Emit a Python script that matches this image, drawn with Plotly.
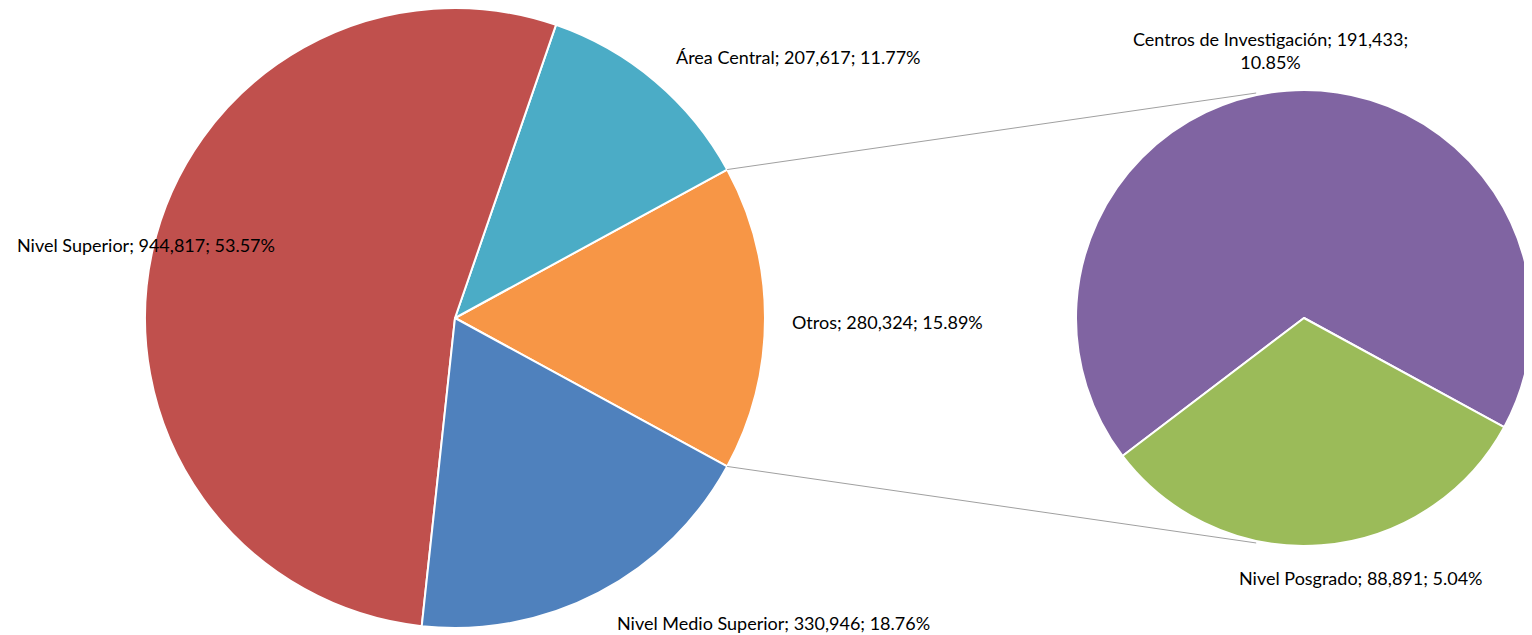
import math
import plotly.graph_objects as go

# main pie (Otros is broken out into the second pie)
main_labels = ["Otros", "Área Central", "Nivel Superior", "Nivel Medio Superior"]
main_values = [280324, 207617, 944817, 330946]
main_colors = ["#F79646", "#4BACC6", "#C0504D", "#4F81BD"]

# second pie: detail of "Otros"
sub_labels = ["Centros de Investigación", "Nivel Posgrado"]
sub_values = [191433, 88891]
sub_colors = ["#8064A2", "#9BBB59"]

W, H = 1532, 635
OFF = 8  # page body margin
FW, FH = W - OFF, H - OFF
total = sum(main_values)

def fmt(lbl, v):
  return "{}; {:,}; {:.2f}%".format(lbl, v, 100.0 * v / total)

def px2paper(px, py):
  return (px - OFF) / FW, 1 - (py - OFF) / FH

# geometry in screen pixels
c1, r1 = (455, 318), 310
c2, r2 = (1304, 318), 228

def dom(c, r):
  x0, y1 = px2paper(c[0] - r, c[1] - r)
  x1, y0 = px2paper(c[0] + r, c[1] + r)
  return dict(x=[max(0, x0), min(1, x1)], y=[max(0, y0), min(1, y1)])

half_deg = 360.0 * main_values[0] / total / 2
# plotly (counterclockwise): first slice ends at the rotation angle
rot_main = 90 - half_deg
rot_sub = 90 - (-half_deg + 360.0 * sub_values[0] / sum(sub_values))

fig = go.Figure()
fig.add_trace(go.Pie(
  labels=main_labels, values=main_values, sort=False, direction="counterclockwise",
  rotation=rot_main, domain=dom(c1, r1), textinfo="none", hoverinfo="label+value+percent",
  marker=dict(colors=main_colors, line=dict(color="white", width=2)), showlegend=False
))
fig.add_trace(go.Pie(
  labels=sub_labels, values=sub_values, sort=False, direction="counterclockwise",
  rotation=rot_sub, domain=dom(c2, r2), textinfo="none", hoverinfo="label+value",
  marker=dict(colors=sub_colors, line=dict(color="white", width=2)), showlegend=False
))

# connector lines from the split slice to the second pie
half = math.radians(half_deg)
a2 = math.radians(102)
for s in (1, -1):
  x0, y0 = px2paper(c1[0] + r1 * math.cos(half), c1[1] - s * r1 * math.sin(half))
  x1, y1 = px2paper(c2[0] + (r2 + 2) * math.cos(a2), c2[1] - s * (r2 + 2) * math.sin(a2))
  fig.add_shape(type="line", xref="paper", yref="paper", x0=x0, y0=y0, x1=x1, y1=y1,
                line=dict(color="#A0A0A0", width=1))

# label positions (screen pixel centres)
label_pos = {
  "Área Central": (798, 57),
  "Nivel Superior": (146, 245),
  "Otros": (887, 322),
  "Nivel Medio Superior": (773, 623),
  "Centros de Investigación": (1270, 50),
  "Nivel Posgrado": (1361, 578),
}
texts = {l: fmt(l, v) for l, v in zip(main_labels, main_values)}
for l, v in zip(sub_labels, sub_values):
  texts[l] = fmt(l, v)
texts["Centros de Investigación"] = texts["Centros de Investigación"].replace("; 10", ";<br>10")

for l, (px, py) in label_pos.items():
  x, y = px2paper(px, py)
  fig.add_annotation(x=x, y=y, xref="paper", yref="paper",
                     text=texts[l], showarrow=False, xanchor="center", yanchor="middle",
                     font=dict(family="Lato, Open Sans, sans-serif", size=18, color="#000000"))

fig.update_layout(width=FW, height=FH, margin=dict(l=0, r=0, t=0, b=0),
                  paper_bgcolor="white", plot_bgcolor="white")

fig.write_html("out.html")
